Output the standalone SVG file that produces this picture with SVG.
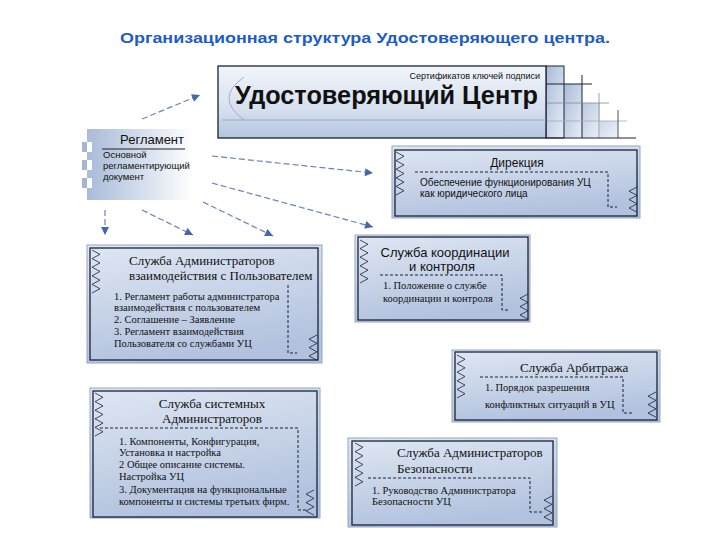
<svg xmlns="http://www.w3.org/2000/svg" width="720" height="540" viewBox="0 0 720 540">
<defs>
<linearGradient id="gBox" x1="0" y1="0" x2="0.3" y2="1">
<stop offset="0" stop-color="#dfe7f3"/>
<stop offset="1" stop-color="#b2c2de"/>
</linearGradient>
<linearGradient id="gBan" x1="0" y1="0" x2="0" y2="1">
<stop offset="0" stop-color="#f2f5fa"/>
<stop offset="0.6" stop-color="#d6e0ee"/>
<stop offset="1" stop-color="#b4c5df"/>
</linearGradient>
<linearGradient id="gReg" x1="0" y1="0" x2="1" y2="0">
<stop offset="0" stop-color="#a8bbd8"/>
<stop offset="1" stop-color="#ffffff"/>
</linearGradient>
<linearGradient id="gCell" x1="0" y1="0" x2="1" y2="1">
<stop offset="0" stop-color="#aabbd8"/>
<stop offset="1" stop-color="#e6edf6"/>
</linearGradient>
<marker id="ah" viewBox="0 0 10 10" refX="10" refY="5" markerWidth="10" markerHeight="8" markerUnits="userSpaceOnUse" orient="auto">
<path d="M0,0 L10,5 L0,10 Z" fill="#4668a8"/>
</marker>
<path id="zzL" d="M0,0 L8,4.3 L0,8.6 L8,12.9 L0,17.2 L8,21.5 L0,25.8 L8,30.1 L0,34.4 L8,38.7 L0,43"/>
<path id="zzR" d="M8,0 L0,4.2 L8,8.4 L0,12.6 L8,16.8 L0,21 L8,25.2"/>
</defs>
<style>
.box{fill:url(#gBox);stroke:#93a6c6;stroke-width:1}
.inner{fill:none;stroke:#1b2338;stroke-width:1.3}
.zz{fill:none;stroke:#1c2233;stroke-width:0.8}
.dash{fill:none;stroke:#1c2233;stroke-width:1;stroke-dasharray:3 2}
.conn{fill:none;stroke:#6a84b6;stroke-width:1.2;stroke-dasharray:6 3}
.sans{font-family:"Liberation Sans",Arial,sans-serif;fill:#111}
.serif{font-family:"Liberation Serif","Times New Roman",serif;fill:#111}
.h{font-size:13px}
.b{font-size:10.5px}
</style>
<rect width="720" height="540" fill="#ffffff"/>
<text x="365" y="43" text-anchor="middle" textLength="490" lengthAdjust="spacingAndGlyphs" font-family="'Liberation Sans',Arial,sans-serif" font-weight="bold" font-size="15" fill="#1d5cc6">Организационная структура Удостоверяющего центра.</text>

<g id="banner">
<rect x="564" y="84" width="18" height="54" fill="url(#gCell)"/>
<rect x="582" y="103" width="18" height="35" fill="url(#gCell)" opacity="0.8"/>
<rect x="600" y="121" width="18" height="17" fill="url(#gCell)" opacity="0.6"/>
<rect x="546" y="66" width="18" height="72" fill="url(#gCell)" stroke="#1b2338" stroke-width="1"/>
<line x1="546" y1="84" x2="592" y2="84" stroke="#1b2338" stroke-width="1"/>
<line x1="582" y1="75" x2="582" y2="138" stroke="#1b2338" stroke-width="1"/>
<line x1="546" y1="103" x2="609" y2="103" stroke="#7f8aa0" stroke-width="0.8"/>
<line x1="599" y1="93" x2="599" y2="138" stroke="#7f8aa0" stroke-width="0.8"/>
<line x1="546" y1="121" x2="627" y2="121" stroke="#a3acbd" stroke-width="0.8"/>
<line x1="618" y1="110" x2="618" y2="138" stroke="#4a5468" stroke-width="1"/>
<line x1="546" y1="138" x2="636" y2="138" stroke="#1b2338" stroke-width="1.2"/>
<rect x="218" y="66" width="328" height="72" fill="url(#gBan)" stroke="#1b2338" stroke-width="1.3"/>
<line x1="222" y1="120" x2="546" y2="120" stroke="#8ea2c4" stroke-width="0.8"/>
<path d="M244,77 Q214,98 244,120" fill="none" stroke="#8ca0c8" stroke-width="0.8"/>
<text x="540" y="79" text-anchor="end" class="sans" font-size="9">Сертификатов ключей подписи</text>
<text x="235" y="104" textLength="303" lengthAdjust="spacingAndGlyphs" class="sans" font-weight="bold" font-size="26">Удостоверяющий Центр</text>
</g>

<g id="reglament">
<rect x="87" y="129" width="106" height="71" fill="url(#gReg)"/>
<rect x="82" y="142" width="5" height="10" fill="#a7b6cf"/><rect x="87" y="142" width="5" height="10" fill="#fff"/>
<rect x="82" y="160" width="5" height="10" fill="#a7b6cf"/><rect x="87" y="160" width="5" height="10" fill="#fff"/>
<rect x="82" y="178" width="5" height="10" fill="#a7b6cf"/><rect x="87" y="178" width="5" height="10" fill="#fff"/>
<text x="184" y="144" text-anchor="end" class="sans" font-size="13">Регламент</text>
<line x1="102" y1="149" x2="185" y2="149" stroke="#222" stroke-width="1.2"/>
<text class="sans" font-size="9.5"><tspan x="103" y="158">Основной</tspan><tspan x="103" y="169">регламентирующий</tspan><tspan x="103" y="180">документ</tspan></text>
</g>

<g id="connectors">
<path class="conn" d="M142,119 L200,95" marker-end="url(#ah)"/>
<path class="conn" d="M212,156 L373,173" marker-end="url(#ah)"/>
<path class="conn" d="M212,183 L373,227" marker-end="url(#ah)"/>
<path class="conn" d="M142,210 L193,235" marker-end="url(#ah)"/>
<path class="conn" d="M203,202 L273,236" marker-end="url(#ah)"/>
<path class="conn" d="M105,210 L105,235" marker-end="url(#ah)"/>
</g>

<g id="direkciya">
<rect class="box" x="392" y="146" width="248" height="72"/>
<rect class="inner" x="395" y="150" width="242" height="66"/>
<use href="#zzL" class="zz" x="396" y="152"/>
<use href="#zzR" class="zz" x="629" y="187"/>
<text x="517" y="167" text-anchor="middle" class="sans" font-size="12">Дирекция</text>
<path class="dash" d="M415,172 H608 V207 H617"/>
<text class="sans" font-size="10"><tspan x="420" y="186">Обеспечение функционирования УЦ</tspan><tspan x="420" y="197">как юридического лица</tspan></text>
</g>

<g id="adm-users">
<rect class="box" x="87" y="245" width="235" height="118"/>
<rect class="inner" x="90" y="248" width="228" height="112"/>
<use href="#zzL" class="zz" x="92" y="250"/>
<use href="#zzR" class="zz" x="309" y="335"/>
<text class="serif h"><tspan x="129" y="265">Служба Администраторов</tspan><tspan x="129" y="280">взаимодействия с Пользователем</tspan></text>
<path class="dash" d="M288,285 V353 H297"/>
<text class="serif b"><tspan x="114" y="300">1. Регламент работы администратора</tspan><tspan x="114" y="311">взаимодействия с пользователем</tspan><tspan x="114" y="323">2. Соглашение – Заявление</tspan><tspan x="114" y="335">3. Регламент взаимодействия</tspan><tspan x="114" y="347">Пользователя со службами УЦ</tspan></text>
</g>

<g id="coord">
<rect class="box" x="355" y="235" width="175" height="87"/>
<rect class="inner" x="358" y="237" width="170" height="83"/>
<use href="#zzL" class="zz" x="360" y="240"/>
<use href="#zzR" class="zz" x="520" y="294"/>
<text text-anchor="middle" class="sans h"><tspan x="445" y="257">Служба координации</tspan><tspan x="442" y="271">и контроля</tspan></text>
<path class="dash" d="M380,275 H502 V310 H510"/>
<text class="serif b"><tspan x="383" y="289">1. Положение о службе</tspan><tspan x="383" y="302">координации и контроля</tspan></text>
</g>

<g id="arbitr">
<rect class="box" x="452" y="350" width="208" height="72"/>
<rect class="inner" x="455" y="352" width="202" height="68"/>
<use href="#zzL" class="zz" x="457" y="355"/>
<use href="#zzR" class="zz" x="648" y="392"/>
<text x="520" y="372" class="serif h">Служба Арбитража</text>
<path class="dash" d="M480,377 H623 V413 H633"/>
<text class="serif b"><tspan x="485" y="391">1. Порядок разрешения</tspan><tspan x="485" y="408">конфликтных ситуаций в УЦ</tspan></text>
</g>

<g id="sysadm">
<rect class="box" x="90" y="388" width="230" height="130"/>
<rect class="inner" x="93" y="391" width="224" height="126"/>
<use href="#zzL" class="zz" x="95" y="393"/>
<use href="#zzR" class="zz" x="306" y="490"/>
<text text-anchor="middle" class="serif h"><tspan x="212" y="408">Служба системных</tspan><tspan x="212" y="423">Администраторов</tspan></text>
<path class="dash" d="M100,428 H298 V510 H307"/>
<text class="serif b"><tspan x="119" y="445">1. Компоненты, Конфигурация,</tspan><tspan x="119" y="456">Установка и настройка</tspan><tspan x="119" y="468">2 Общее описание системы.</tspan><tspan x="119" y="480">Настройка УЦ</tspan><tspan x="119" y="493">3. Документация на функциональные</tspan><tspan x="119" y="505">компоненты и системы третьих фирм.</tspan></text>
</g>

<g id="secadm">
<rect class="box" x="348" y="438" width="209" height="89"/>
<rect class="inner" x="352" y="441" width="201" height="84"/>
<use href="#zzL" class="zz" x="355" y="443"/>
<use href="#zzR" class="zz" x="544" y="496"/>
<text class="serif h"><tspan x="397" y="457">Служба Администраторов</tspan><tspan x="397" y="473">Безопасности</tspan></text>
<path class="dash" d="M368,478 H530 V512 H542" stroke="#666"/>
<text class="serif b"><tspan x="372" y="494">1. Руководство Администратора</tspan><tspan x="372" y="505">Безопасности УЦ</tspan></text>
</g>
</svg>
